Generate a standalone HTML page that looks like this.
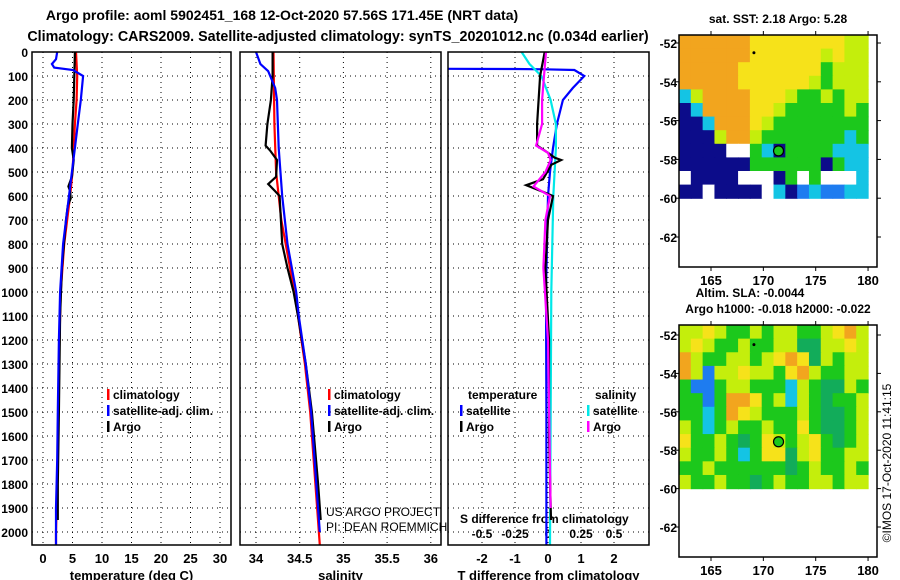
<!DOCTYPE html>
<html><head><meta charset="utf-8"><style>
html,body{margin:0;padding:0;background:#fff;width:900px;height:580px;overflow:hidden}
svg{display:block;font-family:"Liberation Sans",sans-serif}
.b{font-weight:bold}
</style></head><body>
<svg id="s" width="900" height="580" xmlns="http://www.w3.org/2000/svg">
<text x="282" y="20" class="b" font-size="14" text-anchor="middle">Argo profile: aoml 5902451_168 12-Oct-2020 57.56S 171.45E (NRT data)</text>
<text x="338" y="41" class="b" font-size="14.3" text-anchor="middle">Climatology: CARS2009. Satellite-adjusted climatology: synTS_20201012.nc (0.034d earlier)</text>
<text x="778" y="23" class="b" font-size="12" text-anchor="middle">sat. SST: 2.18 Argo: 5.28</text>
<text x="750" y="297" class="b" font-size="12" text-anchor="middle">Altim. SLA: -0.0044</text>
<text x="778" y="313" class="b" font-size="12" text-anchor="middle">Argo h1000: -0.018 h2000: -0.022</text>
<text transform="translate(891,463) rotate(-90)" font-size="12" text-anchor="middle">©IMOS 17-Oct-2020 11:41:15</text>
<text x="326" y="516" font-size="12">US ARGO PROJECT</text>
<text x="326" y="531" font-size="12">PI: DEAN ROEMMICH</text>
</svg>
<script>
// ---- data ----
const depthTicks=[0,100,200,300,400,500,600,700,800,900,1000,1100,1200,1300,1400,1500,1600,1700,1800,1900,2000];
const tempTicks=[0,5,10,15,20,25,30];
const salTicks=[34,34.5,35,35.5,36];
const salTickLabels=["34","34.5","35","35.5","36"];
const tdTicks=[-2,-1,0,1,2];
const sdTicks=[-0.5,-0.25,0,0.25,0.5];
const sdTickLabels=["-0.5","-0.25","0","0.25","0.5"];
// temperature profiles [depth, value]
const tempClim=[[0,5.6],[100,5.8],[200,5.7],[300,5.4],[500,5.0],[600,4.6],[800,3.6],[1000,3.0],[1200,2.8],[1500,2.6],[1800,2.4],[2000,2.2],[2054,2.2]];
const tempSat=[[0,2.4],[30,2.2],[50,1.5],[65,1.9],[75,5.1],[100,6.8],[200,6.4],[300,5.9],[400,5.4],[500,4.9],[600,4.4],[800,3.4],[1000,2.9],[1200,2.7],[1500,2.5],[1700,2.4],[1900,2.2],[2054,2.2]];
const tempArgo=[[0,5.4],[100,5.3],[200,5.2],[300,5.0],[400,4.9],[450,5.2],[520,4.9],[560,4.3],[580,4.6],[610,4.7],[640,4.2],[700,3.9],[900,3.2],[1100,2.9],[1300,2.8],[1500,2.7],[1800,2.5],[1950,2.5]];
// salinity profiles
const salClim=[[0,34.2],[300,34.21],[500,34.23],[700,34.29],[900,34.39],[1100,34.48],[1300,34.56],[1500,34.62],[1800,34.68],[2054,34.73]];
const salSat=[[0,34.0],[50,34.05],[80,34.14],[150,34.22],[200,34.24],[400,34.26],[600,34.3],[800,34.36],[1000,34.46],[1100,34.49],[1300,34.57],[1500,34.63],[1800,34.69],[2000,34.73]];
const salArgo=[[0,34.19],[100,34.19],[200,34.17],[300,34.13],[390,34.11],[410,34.16],[450,34.24],[520,34.23],[550,34.14],[580,34.22],[600,34.27],[800,34.3],[900,34.36],[1000,34.43],[1100,34.48],[1300,34.57],[1500,34.64],[1800,34.71],[1950,34.74]];
// differences
const tdSat=[[70,-3.1],[71,-1.0],[72,-0.1],[75,0.8],[100,1.1],[150,0.75],[200,0.45],[300,0.27],[400,0.15],[500,0.06],[600,0.0],[1000,-0.06],[1500,-0.05],[2054,-0.05]];
const tdArgo=[[0,-0.1],[100,-0.24],[300,-0.33],[390,-0.33],[420,0.0],[440,0.2],[450,0.4],[470,0.1],[530,-0.15],[555,-0.66],[580,-0.2],[600,0.15],[700,0.0],[900,-0.08],[1200,0.03],[1600,0.03],[1950,0.09]];
const sdSat=[[0,-0.2],[50,-0.14],[100,-0.05],[200,0.02],[300,0.06],[400,0.06],[600,0.04],[1000,0.025],[2054,0.015]];
const sdArgo=[[0,-0.015],[100,-0.03],[200,-0.045],[300,-0.045],[390,-0.09],[420,0.0],[450,0.02],[500,-0.02],[560,-0.11],[600,0.015],[700,-0.02],[900,-0.035],[1200,0.0],[1900,0.02]];
// map grids (colour class codes), rows north->south, cols west->east
const sstGrid=["OOOOOOYYYYYYYYLL","OOOOOOYYYYYYLYLL","OOOOOYYYYYYYGLLL","OOOOOYYYYYYLGLLL","CLOOOOYYYLGGLGLL","NCOOOOYYLGGGGGLG","NNCOOOYLGGGGGGGG","NNNLOOLGGGGGGGCG","NNNNWWGCNGGGGCCC","NNNNNNGGGGGGNGCC","WNNNNWWWNGWGWWWC","NNWNNNNWCNBCBBCC"];
const slaGrid=["LLYLGGLGLLGGLYOL","LYLGGLGGLLTTLLYL","OLGGLLGLYOYTLGLL","OLBLLYLLGYOLGGLL","GBBGLLGGGCLGTTLG","GGBGOOYGLCLGTGGL","GGCGOYLGGGLGTTGL","LGCGLGGLGGYGTTGL","YGGLGTGYLGLYGTGL","LGGLGCGYYTLYGGLL","GGLGGGGGGTGLGGLG","LGGLGGTGLGGLLGLL"];
const latTicks=[-52,-54,-56,-58,-60,-62];
const lonTicks=[165,170,175,180];
const argoLon=171.45, argoLat=-57.56;
</script>
<script>
const NS="http://www.w3.org/2000/svg";
const svg=document.getElementById('s');
function mk(tag,at,parent){const e=document.createElementNS(NS,tag);for(const k in at)e.setAttribute(k,at[k]);(parent||svg).appendChild(e);return e;}
function txt(x,y,s,size,anchor,bold){const t=mk('text',{x:x,y:y,'font-size':size,'text-anchor':anchor||'start'});if(bold)t.setAttribute('class','b');t.textContent=s;return t;}
const Y0=52,PXM=0.24,YB=545;
const yD=d=>Y0+d*PXM;
const palette={O:'#f2a51e',Y:'#f6e21a',L:'#c4ee0c',G:'#1cc81c',T:'#12ac5a',C:'#14c4e4',B:'#1e7cf0',N:'#0c0c8a',W:'#ffffff'};

function panel(name,x0,x1,xs,xticks,xlabels,title,gridX){
  const g=mk('g',{});
  
  
  depthTicks.forEach(d=>{const l=mk('line',{x1:x0,x2:x1,y1:yD(d),y2:yD(d),stroke:'#000','stroke-width':1,'stroke-dasharray':'1,4'},g);});
  gridX.forEach(v=>{const l=mk('line',{x1:xs(v),x2:xs(v),y1:Y0,y2:YB,stroke:'#000','stroke-width':1,'stroke-dasharray':'1,4'},g);});
  xticks.forEach((v,i)=>{const t=txt(xs(v),563,xlabels[i],13,'middle',true);});
  if(title){const t=txt((x0+x1)/2,580,title,13,'middle',true);}
  return g;
}
function frame(name,x0,x1){const r=mk('rect',{x:x0,y:Y0,width:x1-x0,height:YB-Y0,fill:'none',stroke:'#000','stroke-width':1.5});}
function line(data,xs,color,name,clipId){
  const pts=data.map(p=>xs(p[1]).toFixed(1)+','+yD(p[0]).toFixed(1)).join(' ');
  const l=mk('polyline',{points:pts,fill:'none',stroke:color,'stroke-width':2.2,'stroke-linejoin':'miter','clip-path':'url(#'+clipId+')'});
  
  
}
function clip(id,x0,x1,y0,y1){const d=mk('clipPath',{id:id});mk('rect',{x:x0,y:y0,width:x1-x0,height:y1-y0},d);}
function legend(x,y,items,name){
  const g=mk('g',{});
  
  
  items.forEach((it,i)=>{mk('rect',{x:x,y:y+i*16-10,width:2.5,height:11,fill:it[1]},g);const t=mk('text',{x:x+6,y:y+i*16,'font-size':12,class:'b'},g);t.textContent=it[0];});
}

depthTicks.forEach(d=>{const t=txt(28,yD(d)+5,String(d),12,'end',true);});

const xT=v=>43+v*5.9;
panel('temperature-panel',32,231,xT,tempTicks,tempTicks.map(String),'temperature (deg C)',tempTicks);
clip('c1',32,231,Y0,YB);
line(tempClim,xT,'#ff0000','temp-climatology-line','c1');
line(tempArgo,xT,'#000000','temp-argo-line','c1');
line(tempSat,xT,'#0000ff','temp-satellite-line','c1');
frame('temperature-frame',32,231);
legend(107,399,[['climatology','#ff0000'],['satellite-adj. clim.','#0000ff'],['Argo','#000']],'temperature-legend');

const xS=v=>256+(v-34)*87.4;
panel('salinity-panel',240,441,xS,salTicks,salTickLabels,'salinity',salTicks);
clip('c2',240,441,Y0,YB);
line(salClim,xS,'#ff0000','sal-climatology-line','c2');
line(salArgo,xS,'#000000','sal-argo-line','c2');
line(salSat,xS,'#0000ff','sal-satellite-line','c2');
frame('salinity-frame',240,441);
legend(328,399,[['climatology','#ff0000'],['satellite-adj. clim.','#0000ff'],['Argo','#000']],'salinity-legend');

const xTD=v=>548+v*33;
const xSD=v=>548+v*132;
panel('difference-panel',448,649,xTD,tdTicks,tdTicks.map(String),'T difference from climatology',[-2,-1,0,1,2]);
sdTicks.forEach((v,i)=>{const t=txt(xSD(v),538,sdTickLabels[i],12,'middle',true);});
{const t=txt(460,523,'S difference from climatology',12,'start',true);}
clip('c3',448,649,Y0,YB);
line(tdSat,xTD,'#0000ff','tdiff-satellite-line','c3');
line(sdSat,xSD,'#00e8e8','sdiff-satellite-line','c3');
line(tdArgo,xTD,'#000000','tdiff-argo-line','c3');
line(sdArgo,xSD,'#ff00ff','sdiff-argo-line','c3');
frame('difference-frame',448,649);
{const t=txt(468,399,'temperature',12,'start',true);
 const u=txt(595,399,'salinity',12,'start',true);}
legend(460,415,[['satellite','#0000ff'],['Argo','#000']],'tdiff-legend');
legend(587,415,[['satellite','#00e8e8'],['Argo','#ff00ff']],'sdiff-legend');

function map(name,grid,top,bot,lat52,lat62){
  const x0=679,x1=877,lonX=v=>711+(v-165)*10.47;
  const latY=v=>lat52+(-52-v)*(lat62-lat52)/10;
  const g=mk('g',{});
  
  
  const yTop=top, yBot=latY(-60), xR=lonX(180);
  const rows=grid.length,cols=grid[0].length;
  const cw=(xR-x0)/cols,ch=(yBot-yTop)/rows;
  grid.forEach((row,r)=>{for(let c=0;c<cols;c++){const k=row[c];const cell=mk('rect',{x:(x0+c*cw).toFixed(2),y:(yTop+r*ch).toFixed(2),width:(cw+0.6).toFixed(2),height:(ch+0.6).toFixed(2),fill:palette[k]},g);}});
  const fr=mk('rect',{x:x0,y:top,width:x1-x0,height:bot-top,fill:'none',stroke:'#000','stroke-width':1.5},g);
  
  latTicks.forEach(v=>{const y=latY(v);mk('line',{x1:x0-4,x2:x0,y1:y,y2:y,stroke:'#000'},g);mk('line',{x1:x1,x2:x1+4,y1:y,y2:y,stroke:'#000'},g);const t=txt(677,y+5,String(v),12,'end',true);});
  lonTicks.forEach(v=>{const x=lonX(v);mk('line',{x1:x,x2:x,y1:top-4,y2:top,stroke:'#000'},g);mk('line',{x1:x,x2:x,y1:bot,y2:bot+4,stroke:'#000'},g);const t=txt(x,bot+18,String(v),13,'middle',true);});
  const m=mk('circle',{cx:lonX(argoLon),cy:latY(argoLat),r:5,fill:'#1cc81c',stroke:'#000','stroke-width':1.2},g);
  
  mk('circle',{cx:lonX(169.1),cy:latY(-52.5),r:1.5,fill:'#000'},g);
}
map('sst-map',sstGrid,35,267,43,237);
map('sla-map',slaGrid,325,557,335,527);
</script>
</body></html>
